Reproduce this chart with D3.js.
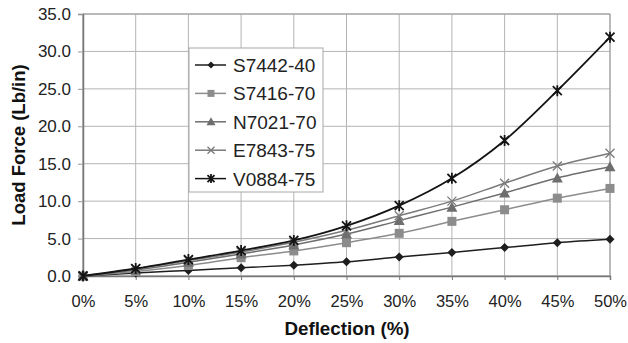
<!DOCTYPE html>
<html><head><meta charset="utf-8">
<script src="https://cdn.jsdelivr.net/npm/d3@7"></script>
<style>body{margin:0;background:#fff}svg{display:block}</style>
</head><body><svg id="c" width="628" height="343"></svg>
<script>
const deflection = [0,5,10,15,20,25,30,35,40,45,50];
const xTicks = ["0%","5%","10%","15%","20%","25%","30%","35%","40%","45%","50%"];
const yTicks = [0,5,10,15,20,25,30,35];
const seriesNames = ["S7442-40","S7416-70","N7021-70","E7843-75","V0884-75"];
const s7442 = [0,0.4,0.75,1.1,1.45,1.9,2.55,3.15,3.8,4.45,4.9];
const s7416 = [0,0.6,1.4,2.45,3.35,4.45,5.7,7.3,8.85,10.4,11.7];
const n7021 = [0,0.8,1.85,2.95,4.15,5.6,7.4,9.2,11.1,13.1,14.6];
const e7843 = [0,0.95,2.05,3.2,4.5,6.1,8.05,10.0,12.4,14.7,16.4];
const v0884 = [0,1.0,2.2,3.4,4.75,6.7,9.4,13.05,18.1,24.75,31.9];
const values = [s7442,s7416,n7021,e7843,v0884];
const colors = ["#1e1e1e","#8c8c8c","#6e6e6e","#7a7a7a","#141414"];
const symbols = ["diamond","square","triangle","x","star"];

const svg = d3.select("#c");
const L=83,R=610,T=14,B=276;
const x = d3.scaleLinear().domain([0,50]).range([L,R]);
const y = d3.scaleLinear().domain([0,35]).range([B,T]);
const font = "Arial, 'Liberation Sans', sans-serif";

// grid
const g = svg.append("g");
g.selectAll(".vg").data(deflection).enter().append("line")
 .attr("x1",d=>x(d)).attr("x2",d=>x(d)).attr("y1",T).attr("y2",B)
 .attr("stroke","#b4b4b4").attr("stroke-width",1);
g.selectAll(".hg").data(yTicks).enter().append("line")
 .attr("x1",L).attr("x2",R).attr("y1",d=>y(d)).attr("y2",d=>y(d))
 .attr("stroke","#b4b4b4").attr("stroke-width",1);
// border
svg.append("rect").attr("x",L).attr("y",T).attr("width",R-L).attr("height",B-T)
 .attr("fill","none").attr("stroke","#9a9a9a").attr("stroke-width",1);

// axes
const xAxis = d3.axisBottom(x).tickValues(deflection).tickFormat((d,i)=>xTicks[i]).tickSize(4).tickPadding(15);
const gx = svg.append("g").attr("transform",`translate(0,${B})`).call(xAxis);
gx.select(".domain").attr("stroke","#777").attr("stroke-width",1.5);
gx.selectAll(".tick line").attr("stroke","#777");
gx.selectAll("text").attr("font-family",font).attr("font-size",16.5).attr("fill","#222");

const yAxis = d3.axisLeft(y).tickValues(yTicks).tickFormat(d3.format(".1f")).tickSize(5).tickPadding(7);
const gy = svg.append("g").attr("transform",`translate(${L},0)`).call(yAxis);
gy.select(".domain").attr("stroke","#777").attr("stroke-width",1.5);
gy.selectAll(".tick line").attr("stroke","#999");
gy.selectAll("text").attr("font-family",font).attr("font-size",17).attr("fill","#222");

// titles
svg.append("text").attr("x",347).attr("y",335).attr("text-anchor","middle")
 .attr("font-family",font).attr("font-size",18.8).attr("font-weight","bold").attr("fill","#111")
 .text("Deflection (%)");
svg.append("text").attr("transform","translate(25,145) rotate(-90)").attr("text-anchor","middle")
 .attr("font-family",font).attr("font-size",18.5).attr("font-weight","bold").attr("fill","#111")
 .text("Load Force (Lb/in)");

function drawMarker(sel, type, color, s){
  if(type==="diamond") sel.append("path").attr("d",`M0,${-s}L${s},0L0,${s}L${-s},0Z`).attr("fill",color);
  else if(type==="square") sel.append("rect").attr("x",-s).attr("y",-s).attr("width",2*s).attr("height",2*s).attr("fill",color);
  else if(type==="triangle") sel.append("path").attr("d",`M0,${-s-1}L${s+1},${s}L${-s-1},${s}Z`).attr("fill",color);
  else if(type==="x") sel.append("path").attr("d",`M${-s},${-s}L${s},${s}M${-s},${s}L${s},${-s}`).attr("stroke",color).attr("stroke-width",1.3).attr("fill","none");
  else if(type==="star") sel.append("path").attr("d",`M${-s},${-s}L${s},${s}M${-s},${s}L${s},${-s}M0,${-s-1}L0,${s+1}`).attr("stroke",color).attr("stroke-width",1.8).attr("fill","none");
}

const line = d3.line().x((d,i)=>x(deflection[i])).y(d=>y(d)).curve(d3.curveMonotoneX);
values.forEach((vals,k)=>{
  svg.append("path").datum(vals).attr("d",line).attr("fill","none")
   .attr("stroke",colors[k]).attr("stroke-width",k===4?1.8:1.5);
  vals.forEach((v,i)=>{
    const m = svg.append("g").attr("transform",`translate(${x(deflection[i])},${y(v)})`);
    drawMarker(m, symbols[k], colors[k], 4.5);
  });
});

// legend
const lg = svg.append("g");
lg.append("rect").attr("x",189).attr("y",48).attr("width",134).attr("height",144)
 .attr("fill","#fff").attr("stroke","#a8a8a8").attr("stroke-width",1);
seriesNames.forEach((n,k)=>{
  const yy = 65 + k*28.4;
  lg.append("line").attr("x1",195).attr("x2",226).attr("y1",yy).attr("y2",yy)
   .attr("stroke",colors[k]).attr("stroke-width",1.5);
  const m = lg.append("g").attr("transform",`translate(211,${yy})`);
  drawMarker(m, symbols[k], colors[k], 3.5);
  lg.append("text").attr("x",233).attr("y",yy+7).attr("font-family",font).attr("font-size",19)
   .attr("fill","#222").text(n);
});
</script></body></html>
